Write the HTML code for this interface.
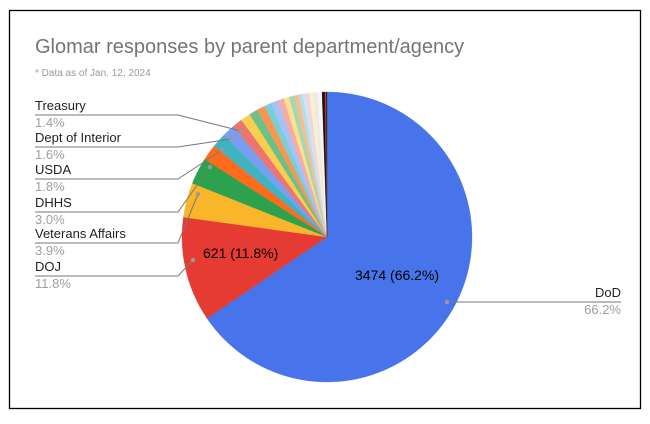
<!DOCTYPE html>
<html><head><meta charset="utf-8"><style>
body{margin:0;background:#fff;width:650px;height:419px;overflow:hidden;font-family:"Liberation Sans",Arial,sans-serif}
</style></head><body>
<svg width="650" height="419" xmlns="http://www.w3.org/2000/svg" font-family="Liberation Sans, Arial, sans-serif">
<rect x="9.5" y="10.5" width="631" height="398" fill="#fff" stroke="#000" stroke-width="1.3"/>
<text x="35" y="53" font-size="20" fill="#757575">Glomar responses by parent department/agency</text>
<text x="35" y="76" font-size="10" fill="#999">* Data as of Jan. 12, 2024</text>
<g id="pie"></g>
<g stroke="#777" stroke-width="1" fill="none">
<polyline points="35,115 178,115 241,131"/>
<polyline points="35,147 178,147 231,139"/>
<polyline points="35,179 178,179 222,150"/>
<polyline points="35,212 178,212 210,167"/>
<polyline points="35,243 178,243 198,194"/>
<polyline points="35,276 178,276 193,260"/>
<polyline points="447,302 621,302"/>
</g>
<g fill="#999">
<circle cx="241" cy="131" r="2.2"/><circle cx="231" cy="139" r="2.2"/><circle cx="222" cy="150" r="2.2"/>
<circle cx="210" cy="167" r="2.2"/><circle cx="198" cy="194" r="2.2"/><circle cx="193" cy="260" r="2.2"/>
<circle cx="447" cy="302" r="2.2"/>
</g>
<g font-size="13" fill="#222">
<text x="35" y="110">Treasury</text>
<text x="35" y="142">Dept of Interior</text>
<text x="35" y="174">USDA</text>
<text x="35" y="207">DHHS</text>
<text x="35" y="238">Veterans Affairs</text>
<text x="35" y="271">DOJ</text>
<text x="621" y="297" text-anchor="end">DoD</text>
</g>
<g font-size="13" fill="#9e9e9e">
<text x="35" y="127">1.4%</text>
<text x="35" y="159">1.6%</text>
<text x="35" y="191">1.8%</text>
<text x="35" y="224">3.0%</text>
<text x="35" y="255">3.9%</text>
<text x="35" y="288">11.8%</text>
<text x="621" y="314" text-anchor="end">66.2%</text>
</g>
<g font-size="14" fill="#000">
<text x="203" y="258">621 (11.8%)</text>
<text x="355" y="280">3474 (66.2%)</text>
</g>
</svg>
<script>
var cx=327,cy=237,r=145;
var s=[[66.2,"#4774ea"],[11.8,"#e53b33"],[3.9,"#f9b62a"],[3.0,"#2ca24e"],[1.8,"#fe6b1c"],[1.6,"#3fb4c0"],[1.4,"#789ef2"],
[1.2,"#ee7470"],[1.1,"#fbcf4e"],[1.0,"#6dc089"],[0.9,"#fc954f"],[0.8,"#78cfd6"],[0.8,"#a8c1f9"],[0.7,"#f5aca6"],
[0.6,"#fde08c"],[0.6,"#a2d8b3"],[0.5,"#fdbb8c"],[0.45,"#b0e1e4"],[0.4,"#d3e0fc"],[0.35,"#fad3cf"],[0.3,"#fef0c8"],
[0.3,"#e4f2e8"],[0.25,"#fde3cf"],[0.2,"#eaf6f7"],[0.2,"#f3f3f3"],[0.15,"#fafafa"],[0.25,"#111"],[0.1,"#5a1010"],[0.1,"#e53b33"],[0.1,"#222"]];
var tot=s.reduce(function(a,b){return a+b[0]},0),a=0,h="";
function pt(t){var q=t/tot*2*Math.PI;return (cx+r*Math.sin(q)).toFixed(2)+","+(cy-r*Math.cos(q)).toFixed(2);}
s.forEach(function(e){var b=a+e[0];h+='<path d="M'+cx+','+cy+' L'+pt(a)+' A'+r+','+r+' 0 '+(e[0]/tot>0.5?1:0)+' 1 '+pt(b)+' Z" fill="'+e[1]+'" stroke="'+e[1]+'" stroke-width="0.3"/>';a=b;});
document.getElementById("pie").innerHTML=h;
</script>
</body></html>
